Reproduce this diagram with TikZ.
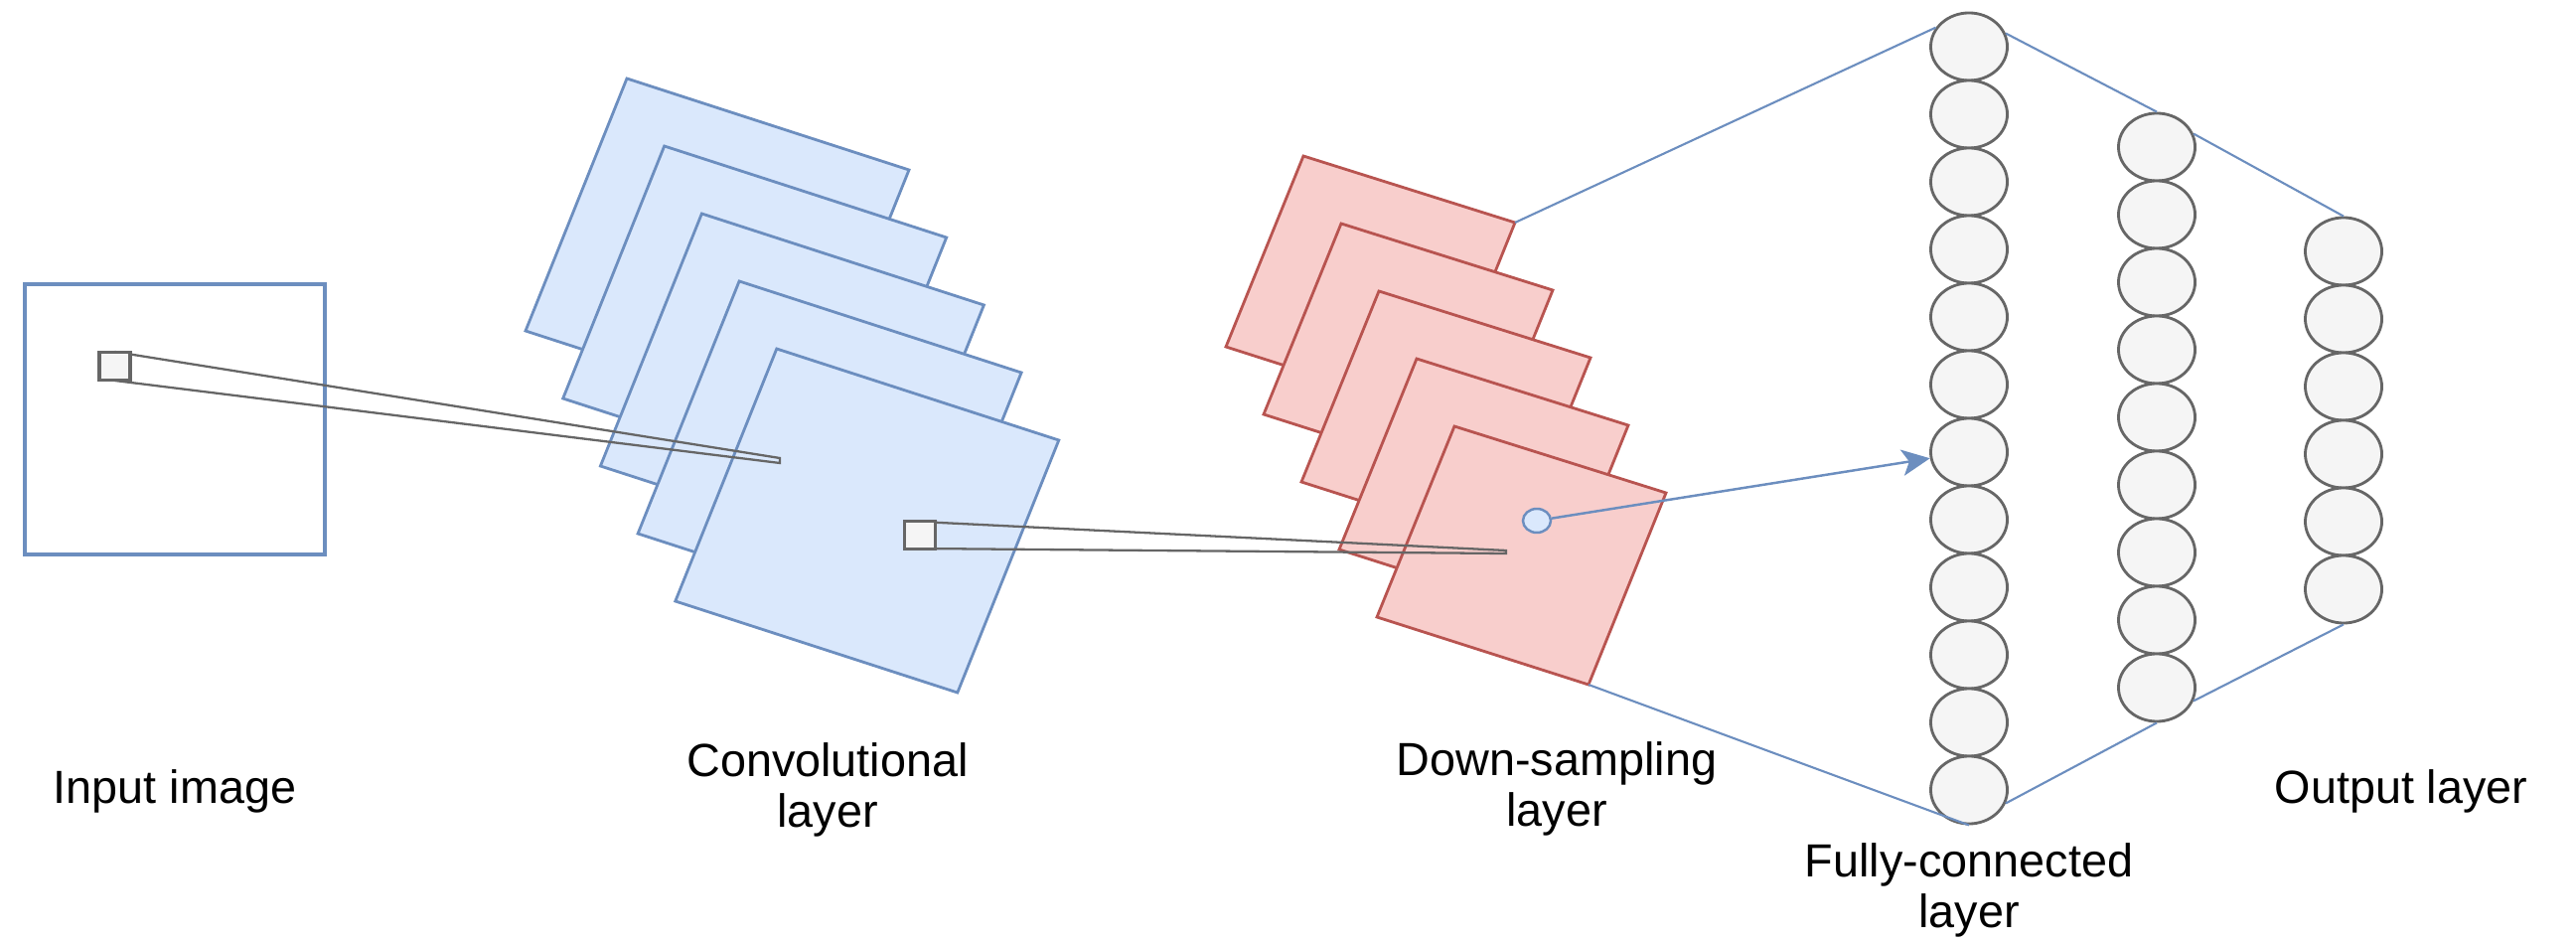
\documentclass[tikz,border=0pt]{standalone}
\usepackage{fontspec}
\setmainfont{Liberation Sans}
\usetikzlibrary{arrows.meta, shapes.geometric}
\definecolor{convfill}{HTML}{DAE8FC}
\definecolor{convline}{HTML}{6C8EBF}
\definecolor{poolfill}{HTML}{F8CECC}
\definecolor{poolline}{HTML}{B85450}
\definecolor{unitfill}{HTML}{F5F5F5}
\definecolor{unitline}{HTML}{666666}

\tikzset{
  convsheet/.style={draw=convline, fill=convfill, line width=0.8pt, line join=miter},
  poolsheet/.style={draw=poolline, fill=poolfill, line width=0.8pt, line join=miter},
  unit/.style={ellipse, draw=unitline, fill=unitfill, line width=0.8pt,
    minimum width=0.77cm, minimum height=0.68cm, inner sep=0pt},
  patch/.style={draw=unitline, fill=unitfill, line width=0.9pt,
    minimum width=0.31cm, minimum height=0.28cm, inner sep=0pt},
  beam/.style={draw=unitline, line width=0.65pt, line join=miter},
  link/.style={draw=convline, line width=0.6pt},
  caption/.style={font=\fontsize{13.3}{14.4}\selectfont, align=center, anchor=base}
}

\begin{document}
\begin{tikzpicture}[x=0.01cm, y=-0.01cm]
  \useasboundingbox (0,0) rectangle (2593,949);

  \foreach \i in {0,...,4} {
    \coordinate (conv\i-t) at (631+37.7*\i, 79+68*\i);
    \draw[convsheet] (conv\i-t) -- ++(284,92) coordinate (conv\i-r)
      -- ++(-102,254) coordinate (conv\i-b) -- ++(-284,-92) coordinate (conv\i-l) -- cycle;
  }

  \node[draw=convline, line width=1.1pt, minimum width=3.02cm, minimum height=2.71cm,
    inner sep=0pt] (input) at (176,422) {};
  \coordinate (tip1a) at (785,461);
  \coordinate (tip1b) at (785,466);
  \draw[beam] (115.5,354) -- (tip1a) -- (tip1b) -- (115.5,383);
  \node[patch] (patch1) at (115.5,368.5) {};

  \foreach \i in {0,...,4} {
    \coordinate (pool\i-t) at (1312+38*\i, 157+68*\i);
    \draw[poolsheet] (pool\i-t) -- ++(213,67) coordinate (pool\i-r)
      -- ++(-78,193) coordinate (pool\i-b) -- ++(-213,-68) coordinate (pool\i-l) -- cycle;
  }

  \coordinate (tip2a) at (1516,554);
  \coordinate (tip2b) at (1516,557);
  \draw[beam] (926,525) -- (tip2a) -- (tip2b) -- (926,552);
  \node[patch] (patch2) at (926,538.5) {};

  \node[ellipse, draw=convline, fill=convfill, line width=0.7pt, minimum width=0.28cm,
    minimum height=0.24cm, inner sep=0pt] (dot) at (1547,524) {};

  \foreach \i in {1,...,12}
    \node[unit] (fc\i) at (1982, 47+68*\i-68) {};
  \foreach \i in {1,...,9}
    \node[unit] (hid\i) at (2171, 148+68*\i-68) {};
  \foreach \i in {1,...,6}
    \node[unit] (out\i) at (2359, 253+68*\i-68) {};

  \draw[link, line width=0.7pt, -{Stealth[length=8pt, width=7.5pt, inset=2pt]}] (dot) -- (fc7);

  \draw[link] (pool0-r) -- (fc1.150);
  \draw[link] (fc1.20) -- (hid1.north);
  \draw[link] (hid1.20) -- (out1.north);
  \draw[link] (out6.south) -- (hid9.-20);
  \draw[link] (hid9.south) -- (fc12.-20);
  \draw[link] (fc12.south) -- (pool4-b);

  \node[caption] (input-label) at (176,808) {Input image};
  \node[caption] (conv-label) at (833,832) {Convolutional\\layer};
  \node[caption] (pool-label) at (1567,831) {Down-sampling\\layer};
  \node[caption] (fc-label) at (1982,933) {Fully-connected\\layer};
  \node[caption] (out-label) at (2417,808) {Output layer};
\end{tikzpicture}
\end{document}
